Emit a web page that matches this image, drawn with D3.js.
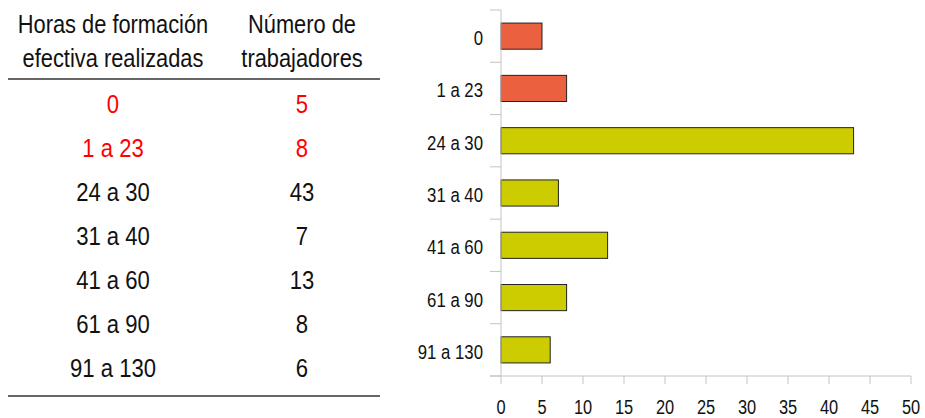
<!DOCTYPE html>
<html>
<head>
<meta charset="utf-8">
<script src="https://cdn.jsdelivr.net/npm/d3@7"></script>
<style>
body { margin: 0; background: #fff; }
text { font-family: "Liberation Sans", Arial, sans-serif; }
</style>
</head>
<body>
<svg id="chart" width="925" height="418"></svg>
<script>
var categories = ['0', '1 a 23', '24 a 30', '31 a 40', '41 a 60', '61 a 90', '91 a 130'];
var workers = [5, 8, 43, 7, 13, 8, 6];
var highlighted = ['0', '1 a 23'];
var headers = [['Horas de formación', 'efectiva realizadas'], ['Número de', 'trabajadores']];
var xTicks = [0, 5, 10, 15, 20, 25, 30, 35, 40, 45, 50];

var svg = d3.select('#chart');

// texto estrecho (tipo Arial Narrow): se comprime en horizontal
function narrow(sel, x, y, size, sx, anchor){
	return sel.attr('transform', function(d, i){
			return 'translate(' + x(d, i) + ',' + y(d, i) + ') scale(' + sx + ',1)';
		})
		.attr('text-anchor', anchor)
		.style('font-size', size + 'px');
}

// tabla
var table = svg.append('g').attr('class', 'table');
var colX = [113, 302];
headers.forEach(function(h, i){
	narrow(table.selectAll('text.h' + i).data(h).enter().append('text').attr('class', 'h' + i),
		function(){ return colX[i]; }, function(d, j){ return 33 + j * 33.5; }, 26, 0.84, 'middle')
		.attr('fill', '#111')
		.text(function(d){ return d; });
});
table.append('line').attr('x1', 8).attr('x2', 380).attr('y1', 79).attr('y2', 79)
	.attr('stroke', '#666').attr('stroke-width', 2);
table.append('line').attr('x1', 8).attr('x2', 380).attr('y1', 396).attr('y2', 396)
	.attr('stroke', '#666').attr('stroke-width', 2);

var rowY = d3.scalePoint().domain(categories).range([112.5, 376.5]);
var colour = function(d){ return highlighted.indexOf(d) >= 0 ? '#ff0000' : '#111'; };
var rows = table.selectAll('g.row').data(categories).enter().append('g').attr('class', 'row');
narrow(rows.append('text'), function(){ return colX[0]; }, function(d){ return rowY(d); }, 26, 0.85, 'middle')
	.attr('fill', colour)
	.text(function(d){ return d; });
narrow(rows.append('text'), function(){ return colX[1]; }, function(d){ return rowY(d); }, 26, 0.85, 'middle')
	.attr('fill', colour)
	.text(function(d, i){ return workers[i]; });

// barras
var x = d3.scaleLinear().domain([0, 50]).range([501, 911]);
var y = d3.scaleBand().domain(categories).range([10, 376]).paddingInner(0.5).paddingOuter(0.25);

var g = svg.append('g').attr('class', 'bars');
g.selectAll('rect').data(categories).enter().append('rect')
	.attr('x', x(0))
	.attr('y', function(d){ return y(d); })
	.attr('width', function(d, i){ return x(workers[i]) - x(0); })
	.attr('height', y.bandwidth())
	.attr('fill', function(d){ return highlighted.indexOf(d) >= 0 ? '#eb6140' : '#cccc00'; })
	.attr('stroke', '#222').attr('stroke-width', 1);

// eje y
var yAxis = svg.append('g');
yAxis.append('line').attr('x1', x(0)).attr('x2', x(0)).attr('y1', 10).attr('y2', 376)
	.attr('stroke', '#c4c4c4').attr('stroke-width', 1);
var bandStep = (376 - 10) / categories.length;
d3.range(categories.length + 1).forEach(function(i){
	yAxis.append('line').attr('x1', 490).attr('x2', x(0))
		.attr('y1', 10 + i * bandStep).attr('y2', 10 + i * bandStep)
		.attr('stroke', '#c4c4c4');
});
narrow(yAxis.selectAll('text').data(categories).enter().append('text'),
	function(){ return 483; }, function(d){ return y(d) + y.bandwidth() / 2 + 9; }, 19.5, 0.86, 'end')
	.attr('fill', '#111')
	.text(function(d){ return d; });

// eje x
var xAxis = svg.append('g');
xAxis.append('line').attr('x1', 490).attr('x2', x(50)).attr('y1', 376).attr('y2', 376)
	.attr('stroke', '#c4c4c4');
xAxis.selectAll('line.tick').data(xTicks).enter().append('line').attr('class', 'tick')
	.attr('x1', function(d){ return x(d); }).attr('x2', function(d){ return x(d); })
	.attr('y1', 376).attr('y2', 384).attr('stroke', '#c4c4c4');
narrow(xAxis.selectAll('text').data(xTicks).enter().append('text'),
	function(d){ return x(d); }, function(){ return 413.5; }, 20.5, 0.8, 'middle')
	.attr('fill', '#111')
	.text(function(d){ return d; });
</script>
</body>
</html>
